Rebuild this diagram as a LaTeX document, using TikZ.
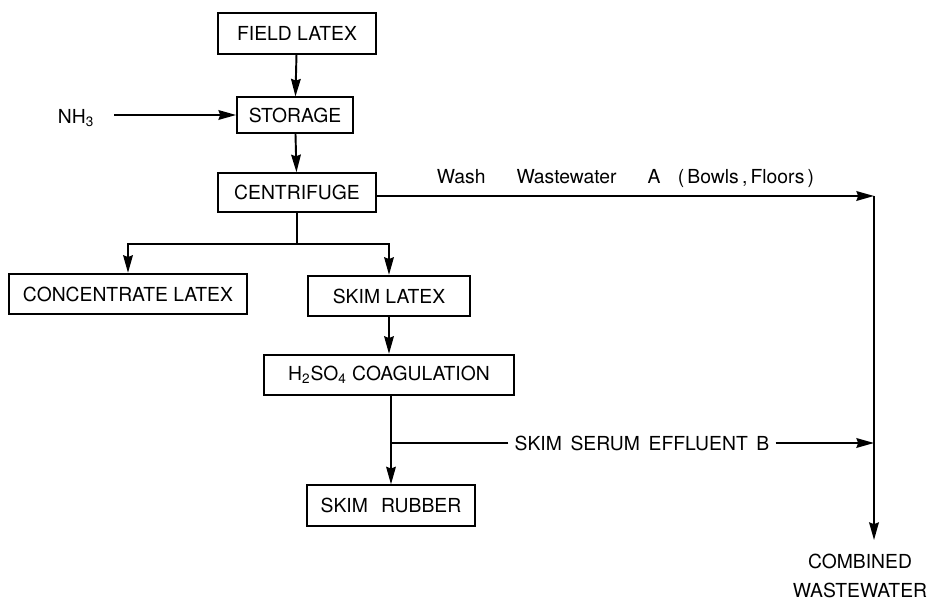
\documentclass[tikz,border=0pt]{standalone}
\usepackage{fontspec}
\setsansfont{TeX Gyre Heros}
\usepackage{tikz}
\usetikzlibrary{arrows.meta}

\begin{document}
\begin{tikzpicture}[
    x=0.02cm, y=-0.02cm,
    every node/.style={font=\sffamily\fontsize{11}{13}\selectfont},
    procbox/.style={draw, line width=1.1pt, minimum height=23pt, inner sep=2pt},
    flowarr/.style={-{Stealth[length=10pt,width=5.5pt,inset=1pt]}, line width=1.1pt},
    flowline/.style={line width=1.1pt}
]
    \useasboundingbox (0,0) rectangle (934,604);

    % --- MAIN LINE (left) ---
    \node[procbox, minimum width=90pt] (field) at (297, 33.5) {FIELD LATEX};
    \node[procbox, minimum width=66pt, minimum height=20pt] (storage) at (295, 115) {STORAGE};
    \node[procbox, minimum width=90pt, minimum height=22pt] (centri) at (297, 192.5) {CENTRIFUGE};
    \node (nh3) at (76, 118) {NH\textsubscript{3}};

    \draw[flowarr] (field) -- (storage);
    \draw[flowarr] (storage) -- (centri);
    \draw[flowarr, shorten <=8pt] (nh3.east |- storage.west) -- (storage.west);

    % --- BRANCHING ---
    \node[procbox, minimum width=135pt] (conc) at (128, 294) {CONCENTRATE LATEX};
    \node[procbox, minimum width=92pt] (skim) at (389, 296) {SKIM LATEX};
    \node[procbox, minimum width=142pt] (coag) at (389, 375) {H\textsubscript{2}SO\textsubscript{4} COAGULATION};
    \node[procbox, minimum width=96pt] (rubber) at (391, 505.5) {SKIM\hspace{0.4em} RUBBER};

    \coordinate (split) at (297, 244);
    \draw[flowline] (centri.south) -- (split);
    \draw[flowarr] (split) -| (conc.north);
    \draw[flowarr] (split) -| (skim.north);
    \draw[flowarr] (skim) -- (coag);
    \draw[flowarr] (coag.south -| rubber.north) -- (rubber.north);

    % --- WASTEWATER ---
    \coordinate (wcorner) at (874, 196);
    \coordinate (bjoin) at (874, 443);
    \coordinate (outtip) at (874, 540);
    \node[align=center] (combined) at (860, 576) {COMBINED\\[3pt]WASTEWATER};

    \draw[flowarr] (centri.east |- wcorner) -- (wcorner)
        node[midway, above=1pt] {Wash\hspace{1.6em}Wastewater\hspace{1.6em}A\hspace{0.9em}(\,Bowls\,,\,Floors\,)};
    \draw[flowarr] (wcorner) -- (outtip);

    \node (serum) at (642, 443) {SKIM\, SERUM\, EFFLUENT\, B};
    \draw[flowline] (serum.west) -- (serum.west -| rubber.north);
    \draw[flowarr] (serum.east) -- (bjoin);

\end{tikzpicture}
\end{document}
